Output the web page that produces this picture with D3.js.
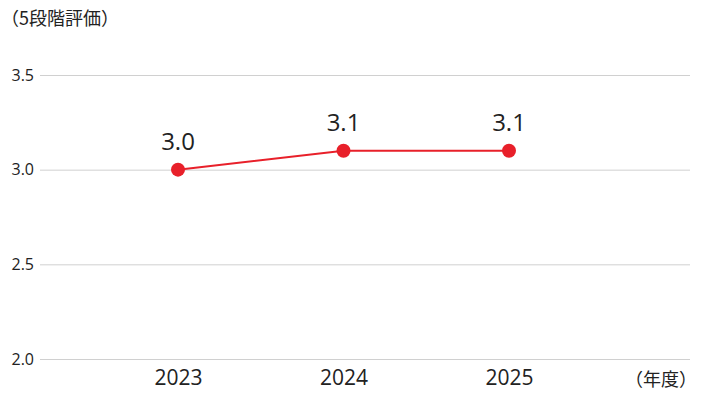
<!DOCTYPE html>
<html>
<head>
<meta charset="utf-8">
<script src="https://cdn.jsdelivr.net/npm/d3@7"></script>
<style>
  body { margin: 0; background: #fff; }
  svg text { font-family: "Noto Sans CJK JP", "Open Sans", sans-serif; fill: #222; }
</style>
</head>
<body>
<script>
  const years = ['2023', '2024', '2025'];
  const scores = [3.0, 3.1, 3.1];
  const yTicks = [2.0, 2.5, 3.0, 3.5];

  const w = 701;
  const h = 398;

  const svg = d3.select('body').append('svg')
    .attr('width', w)
    .attr('height', h);

  // scales
  const x = d3.scalePoint()
    .domain(years)
    .range([178, 509]);

  const y = d3.scaleLinear()
    .domain([2.0, 3.5])
    .range([359, 75]);

  // gridlines + y labels
  const yAxis = d3.axisLeft(y)
    .tickValues(yTicks)
    .tickFormat(d3.format('.1f'))
    .tickSize(-(690 - 40))
    .tickPadding(6);
  const gy = svg.append('g')
    .attr('transform', 'translate(40,0)')
    .call(yAxis);
  gy.select('.domain').remove();
  gy.selectAll('.tick line').attr('stroke', '#d0d0d0').attr('stroke-width', 1);
  gy.selectAll('.tick text')
    .attr('font-size', 16)
    .attr('x', -6)
    .style('font-family', '"Open Sans", sans-serif');

  // x labels
  const xAxis = d3.axisBottom(x).tickSize(0).tickPadding(0);
  const gx = svg.append('g')
    .attr('transform', 'translate(0,378)')
    .call(xAxis);
  gx.select('.domain').remove();
  gx.selectAll('.tick text')
    .attr('font-size', 21)
    .attr('dy', '0.35em')
    .style('font-family', '"Open Sans", sans-serif');

  // line
  const line = d3.line()
    .x((d, i) => x(years[i]))
    .y(d => y(d));
  svg.append('path')
    .datum(scores)
    .attr('d', line)
    .attr('fill', 'none')
    .attr('stroke', '#e8202a')
    .attr('stroke-width', 2);

  svg.selectAll('circle.pt')
    .data(scores)
    .join('circle')
    .attr('class', 'pt')
    .attr('cx', (d, i) => x(years[i]))
    .attr('cy', d => y(d))
    .attr('r', 7)
    .attr('fill', '#e8202a');

  svg.selectAll('text.val')
    .data(scores)
    .join('text')
    .attr('class', 'val')
    .attr('x', (d, i) => x(years[i]))
    .attr('y', d => y(d) - 20)
    .attr('text-anchor', 'middle')
    .attr('font-size', 24)
    .style('font-family', '"Open Sans", sans-serif')
    .text(d => d.toFixed(1));

  // unit labels
  svg.append('text')
    .attr('x', 1)
    .attr('y', 25)
    .attr('font-size', 18)
    .text('（5段階評価）');

  svg.append('text')
    .attr('x', 697)
    .attr('y', 386)
    .attr('text-anchor', 'end')
    .attr('font-size', 18)
    .text('（年度）');
</script>
</body>
</html>
